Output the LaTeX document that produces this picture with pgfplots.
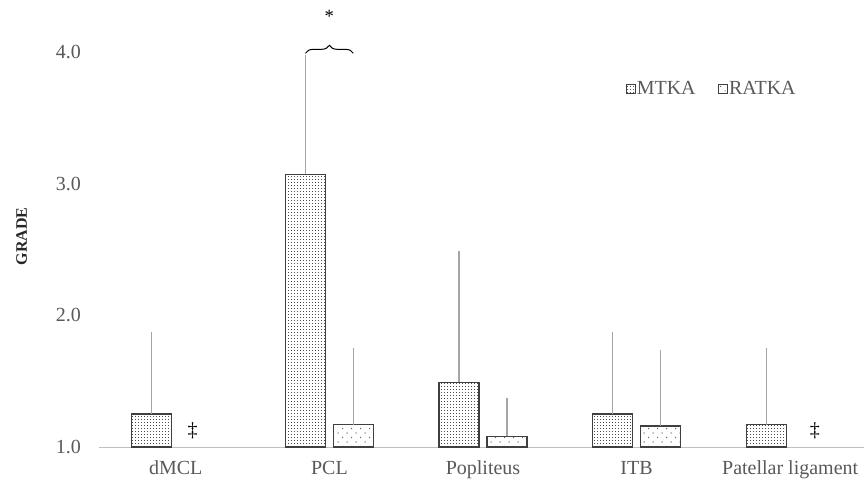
\documentclass[border=0pt]{standalone}
\usepackage{fontspec}
\setmainfont{Liberation Serif}
\usepackage{pgfplots}
\pgfplotsset{compat=1.18}
\usetikzlibrary{patterns,decorations.pathreplacing}
\definecolor{txt}{HTML}{595959}
\definecolor{errc}{HTML}{A5A5A5}
\definecolor{axc}{HTML}{BFBFBF}
\definecolor{bord}{HTML}{404040}
\pgfdeclarepatternformonly{densedots}{\pgfqpoint{-0.5pt}{-0.5pt}}{\pgfqpoint{2.5pt}{2.5pt}}{\pgfqpoint{2.25pt}{2.25pt}}{%
  \pgfpathrectangle{\pgfqpoint{0pt}{0pt}}{\pgfqpoint{0.8pt}{0.8pt}}\pgfusepath{fill}}
\pgfdeclarepatternformonly{sparsedots}{\pgfqpoint{-0.5pt}{-0.5pt}}{\pgfqpoint{7pt}{7pt}}{\pgfqpoint{6.75pt}{6.75pt}}{%
  \pgfpathrectangle{\pgfqpoint{0pt}{0pt}}{\pgfqpoint{0.8pt}{0.8pt}}%
  \pgfpathrectangle{\pgfqpoint{3.375pt}{3.375pt}}{\pgfqpoint{0.8pt}{0.8pt}}\pgfusepath{fill}}
\begin{document}
\begin{tikzpicture}
\begin{axis}[
  at={(0pt,0pt)}, anchor=south west,
  scale only axis, width=576pt, height=296.25pt,
  xmin=-0.5, xmax=4.5, ymin=1, ymax=4,
  ybar=6pt, bar width=30pt,
  clip=false,
  axis x line*=bottom, axis y line*=left,
  x axis line style={axc, line width=0.75pt, -},
  y axis line style={draw=none},
  xtick={0,1,2,3,4},
  xticklabels={dMCL,PCL,Popliteus,ITB,Patellar ligament},
  major tick length=0pt,
  ytick={1,2,3,4},
  /pgf/number format/assume math mode=true,
  yticklabel={\pgfmathprintnumber[fixed,fixed zerofill,precision=1]{\tick}},
  tick label style={font=\fontsize{15pt}{17pt}\selectfont, text=txt},
  xticklabel style={yshift=-7pt},
  yticklabel style={xshift=-10pt},
  legend style={at={(0.686,0.93)}, anchor=north west, draw=none, fill=none,
    legend columns=2, font=\fontsize{15pt}{17pt}\selectfont, text=txt,
    inner sep=0pt, nodes={inner sep=1pt},
    /tikz/every even column/.append style={column sep=16pt}},
  legend image code/.code={\draw[#1, line width=0.5pt] (0pt,-3.25pt) rectangle (6.5pt,3.25pt);},
  error bars/y dir=plus, error bars/y explicit,
  error bars/error mark=none,
  error bars/error bar style={errc, line width=1pt},
]
\addplot[draw=bord, line width=0.9pt, pattern=densedots, pattern color=black!70]
  coordinates {(0,1.25) +- (0,0.62) (1,3.07) +- (0,0.91) (2,1.49) +- (0,1.0) (3,1.25) +- (0,0.62) (4,1.17) +- (0,0.58)};
\addplot[draw=bord, line width=0.9pt, pattern=sparsedots, pattern color=black!60]
  coordinates {(1,1.17) +- (0,0.58) (2,1.08) +- (0,0.29) (3,1.16) +- (0,0.58)};
\legend{MTKA,RATKA}
\node[font=\fontsize{15pt}{17pt}\selectfont] at (axis cs:0.11,1.12) {‡};
\node[font=\fontsize{15pt}{17pt}\selectfont] at (axis cs:4.16,1.12) {‡};
\draw[black, line width=0.75pt, decorate, decoration={brace, amplitude=6pt}]
  (axis cs:0.844,3.99) -- (axis cs:1.156,3.99);
\node[font=\fontsize{14pt}{14pt}\selectfont] at (axis cs:1,4.27) {*};
\node[rotate=90, font=\bfseries\fontsize{12pt}{14pt}\selectfont, text=black!85] at (-58pt,158pt) {GRADE};
\end{axis}
\pgfresetboundingbox
\useasboundingbox (-74.25pt,-27pt) rectangle (573.75pt,335.25pt);
\end{tikzpicture}
\end{document}
